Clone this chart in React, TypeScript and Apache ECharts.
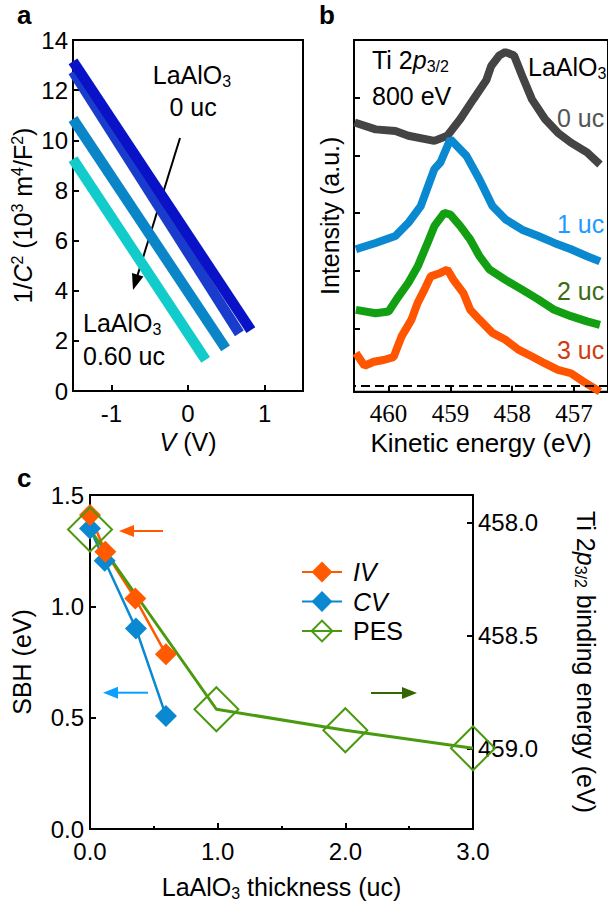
import React, { useEffect, useRef } from 'react';
import * as echarts from 'echarts';

const FONT = "'Liberation Sans', Arial, Helvetica, sans-serif";
const SERIF = "'Liberation Serif', 'Times New Roman', Times, serif";

// ---------- Panel a: 1/C^2 vs V ----------
const bandLabels = ['0 uc', '0.11 uc', '0.35 uc', '0.60 uc'];
const bandColors = ['#0a12c8', '#1a3ccc', '#0a86c8', '#12cccc'];
const band0uc = [[-1.5, 13.15], [0.82, 2.43]];
const band011uc = [[-1.5, 12.75], [0.67, 2.3]];
const band035uc = [[-1.5, 10.85], [0.49, 1.7]];
const band060uc = [[-1.5, 9.25], [0.23, 1.24]];
const aXTicks = [-1, 0, 1];

// ---------- Panel b: Ti 2p3/2 spectra ----------
const specLabels = ['0 uc', '1 uc', '2 uc', '3 uc'];
const specColors = ['#444444', '#0a88d0', '#12a012', '#ff5500'];
const specLabelColors = ['#555555', '#1e9bff', '#3d6b12', '#d03c10'];
const spec0uc = [[460.55, 4.57], [460.21, 4.45], [459.89, 4.42], [459.68, 4.34], [459.26, 4.25], [459.05, 4.34], [458.84, 4.63], [458.63, 4.97], [458.42, 5.3], [458.34, 5.55], [458.21, 5.73], [458.11, 5.79], [457.97, 5.73], [457.84, 5.38], [457.68, 4.97], [457.47, 4.63], [457.26, 4.39], [457.05, 4.22], [456.79, 4.05], [456.58, 3.84]];
const spec1uc = [[460.53, 2.37], [460.21, 2.48], [459.89, 2.6], [459.68, 2.83], [459.48, 3.12], [459.26, 3.76], [459.16, 3.88], [459.0, 4.28], [458.74, 3.99], [458.53, 3.58], [458.32, 3.12], [458.11, 2.89], [457.84, 2.71], [457.58, 2.6], [457.32, 2.48], [457.05, 2.37], [456.79, 2.25], [456.58, 2.16]];
const spec2uc = [[460.53, 1.32], [460.21, 1.26], [460.0, 1.29], [459.84, 1.55], [459.68, 1.79], [459.53, 2.07], [459.37, 2.48], [459.26, 2.77], [459.1, 3.0], [459.0, 2.97], [458.84, 2.77], [458.68, 2.54], [458.53, 2.25], [458.37, 2.02], [458.11, 1.84], [457.84, 1.67], [457.58, 1.5], [457.32, 1.32], [457.05, 1.21], [456.79, 1.12], [456.58, 1.06]];
const spec3uc = [[460.53, 0.57], [460.39, 0.35], [460.24, 0.42], [460.08, 0.45], [459.92, 0.5], [459.79, 0.86], [459.63, 1.15], [459.53, 1.44], [459.42, 1.67], [459.32, 1.9], [459.16, 1.96], [459.05, 2.02], [458.95, 1.84], [458.79, 1.61], [458.68, 1.32], [458.53, 1.15], [458.32, 0.92], [458.11, 0.8], [457.9, 0.63], [457.68, 0.51], [457.47, 0.39], [457.26, 0.28], [457.05, 0.22], [456.84, 0.07], [456.58, -0.1]];
const bXTicks = [457, 458, 459, 460];
const bYTicks = [1, 2, 3, 4, 5];

// ---------- Panel c: SBH and binding energy ----------
const thicknessIV = [0, 0.12, 0.355, 0.595];
const sbhIV = [1.41, 1.245, 1.035, 0.785];
const thicknessCV = [0, 0.115, 0.36, 0.595];
const sbhCV = [1.35, 1.205, 0.9, 0.508];
const thicknessPES = [0, 0.99, 2, 3];
const bindingPES = [458.03, 458.827, 458.92, 459.0];
const cRightTicks = [458.0, 458.5, 459.0];

const rich = {
  i: { fontFamily: FONT, fontSize: 25, fontStyle: 'italic', lineHeight: 28 },
  sup: { fontFamily: FONT, fontSize: 16, lineHeight: 16, verticalAlign: 'top' },
  sub: { fontFamily: FONT, fontSize: 16, lineHeight: 14, verticalAlign: 'bottom' },
};
const nameStyle = { fontFamily: FONT, fontSize: 25, color: '#000', lineHeight: 28, rich };
const axisLine = { onZero: false, lineStyle: { color: '#000', width: 2 } };
const axisTick = { inside: true, length: 6, lineStyle: { color: '#000', width: 2 } };
const labelStyle = { fontFamily: FONT, fontSize: 24, color: '#000' };

const zip = (xs: number[], ys: number[]) => xs.map((x, i) => [x, ys[i]]);

function txt(x: number, y: number, text: string, color = '#000', align = 'left', extra: any = {}) {
  return {
    type: 'text',
    x,
    y,
    silent: true,
    style: {
      text,
      rich: {
        sub: { fontFamily: FONT, fontSize: 16, lineHeight: 14, verticalAlign: 'bottom', fill: color },
        i: { fontFamily: FONT, fontSize: 25, fontStyle: 'italic', lineHeight: 28, fill: color },
      },
      fontFamily: FONT,
      fontSize: 25,
      lineHeight: 28,
      fill: color,
      align,
      verticalAlign: 'middle',
      ...extra,
    },
  };
}

function arrow(x1: number, y1: number, x2: number, y2: number, color: string, headLen = 15, headHalf = 6, width = 2) {
  const dx = x2 - x1;
  const dy = y2 - y1;
  const len = Math.sqrt(dx * dx + dy * dy);
  const ux = dx / len;
  const uy = dy / len;
  const bx = x2 - ux * headLen;
  const by = y2 - uy * headLen;
  const px = -uy;
  const py = ux;
  return [
    { type: 'line', silent: true, shape: { x1, y1, x2: bx + ux, y2: by + uy }, style: { stroke: color, lineWidth: width } },
    {
      type: 'polygon',
      silent: true,
      shape: { points: [[x2, y2], [bx + px * headHalf, by + py * headHalf], [bx - px * headHalf, by - py * headHalf]] },
      style: { fill: color },
    },
  ];
}

function buildOption() {
  const bands = [band0uc, band011uc, band035uc, band060uc];
  const specs = [spec0uc, spec1uc, spec2uc, spec3uc];
  const series: any[] = [];
  [1, 0, 2, 3].forEach((k) => {
    series.push({
      name: 'a ' + bandLabels[k],
      type: 'line',
      xAxisIndex: 0,
      yAxisIndex: 0,
      data: bands[k],
      symbol: 'none',
      clip: false,
      lineStyle: { color: bandColors[k], width: 10.5 },
      silent: true,
    });
  });
  specs.forEach((d, k) => {
    series.push({
      name: 'b ' + specLabels[k],
      type: 'line',
      xAxisIndex: 1,
      yAxisIndex: 1,
      data: d,
      symbol: 'none',
      lineStyle: { color: specColors[k], width: 8 },
      silent: true,
      markLine: k === 3 ? {
        silent: true,
        symbol: 'none',
        label: { show: false },
        lineStyle: { color: '#000', type: [9, 5], width: 2 },
        data: [{ yAxis: 0 }],
      } : undefined,
    });
  });
  series.push({
    name: 'CV',
    type: 'line',
    xAxisIndex: 2,
    yAxisIndex: 2,
    data: zip(thicknessCV, sbhCV),
    symbol: 'diamond',
    symbolSize: 22,
    clip: false,
    itemStyle: { color: '#0a88d0' },
    lineStyle: { color: '#0a88d0', width: 2.5 },
  });
  series.push({
    name: 'IV',
    type: 'line',
    xAxisIndex: 2,
    yAxisIndex: 2,
    data: zip(thicknessIV, sbhIV),
    symbol: 'diamond',
    symbolSize: 22,
    clip: false,
    itemStyle: { color: '#ff5a00' },
    lineStyle: { color: '#ff5a00', width: 2.5 },
  });
  series.push({
    name: 'PES',
    type: 'line',
    xAxisIndex: 2,
    yAxisIndex: 3,
    data: zip(thicknessPES, bindingPES),
    symbol: 'diamond',
    symbolSize: 44,
    clip: false,
    itemStyle: { color: 'rgba(0,0,0,0)', borderColor: '#4a9a10', borderWidth: 2 },
    lineStyle: { color: '#4a9a10', width: 3 },
  });

  const graphics: any[] = [
    txt(17, 15, 'a', '#000', 'left', { fontWeight: 'bold', fontSize: 26, lineHeight: 26 }),
    txt(319, 15, 'b', '#000', 'left', { fontWeight: 'bold', fontSize: 26, lineHeight: 26 }),
    txt(17, 478, 'c', '#000', 'left', { fontWeight: 'bold', fontSize: 26, lineHeight: 26 }),
    txt(192, 75, 'LaAlO{sub|3}', '#000', 'center'),
    txt(193, 107, '0 uc', '#000', 'center'),
    txt(83, 323, 'LaAlO{sub|3}'),
    txt(83, 356, '0.60 uc'),
    ...arrow(180, 138, 133, 290, '#000', 16, 6, 2),
    txt(372, 60, 'Ti 2{i|p}{sub|3/2}'),
    txt(372, 96, '800 eV'),
    txt(528, 67, 'LaAlO{sub|3}'),
    ...specLabels.map((l, k) => txt(557, [118, 224, 291, 350][k], l, specLabelColors[k])),
    ...arrow(163, 531, 119, 531, '#ff5a00', 15, 6, 2),
    ...arrow(148, 692.7, 103, 692.7, '#0aa0ff', 15, 6, 2),
    ...arrow(371, 693, 417, 693, '#336600', 15, 6, 2),
  ];

  return {
    animation: false,
    backgroundColor: '#fff',
    grid: [
      { left: 73, top: 40, width: 230, height: 351, show: true, borderColor: '#000', borderWidth: 2 },
      { left: 354, top: 40, width: 262, height: 351.7, show: true, borderColor: '#000', borderWidth: 2 },
      { left: 89, top: 495, width: 387, height: 334, show: true, borderColor: '#000', borderWidth: 2 },
    ],
    xAxis: [
      {
        gridIndex: 0, type: 'value', min: -1.5, max: 1.5,
        axisLine, axisTick: { ...axisTick, customValues: aXTicks },
        axisLabel: { ...labelStyle, margin: 10, customValues: aXTicks },
        splitLine: { show: false },
        name: '{i|V} (V)', nameLocation: 'middle', nameGap: 37, nameTextStyle: nameStyle,
      },
      {
        gridIndex: 1, type: 'value', min: 456.45, max: 460.56, inverse: true,
        axisLine, axisTick: { ...axisTick, customValues: bXTicks },
        axisLabel: {
          fontFamily: SERIF, fontSize: 25, color: '#000', margin: 9, customValues: bXTicks,
          formatter: (v: number) => `{s|${v}}`,
          rich: { s: { fontFamily: 'Liberation Serif', fontSize: 25, color: '#000' } },
        },
        splitLine: { show: false },
        name: 'Kinetic energy (eV)', nameLocation: 'middle', nameGap: 37,
        nameTextStyle: { ...nameStyle, fontSize: 26 },
      },
      {
        gridIndex: 2, type: 'value', min: 0, max: 3, interval: 1,
        axisLine, axisTick,
        minorTick: { show: true, splitNumber: 2, length: 3, lineStyle: { color: '#000', width: 2 } },
        axisLabel: { ...labelStyle, margin: 10, formatter: (v: number) => v.toFixed(1) },
        splitLine: { show: false },
        name: 'LaAlO{sub|3} thickness (uc)', nameLocation: 'middle', nameGap: 44, nameTextStyle: nameStyle,
      },
    ],
    yAxis: [
      {
        gridIndex: 0, type: 'value', min: 0, max: 14, interval: 2,
        axisLine, axisTick, axisLabel: { ...labelStyle, margin: 5 },
        splitLine: { show: false },
        name: '1/{i|C}{sup|2} (10{sup|3} m{sup|4}/F{sup|2})', nameLocation: 'middle', nameGap: 35, nameTextStyle: nameStyle,
      },
      {
        gridIndex: 1, type: 'value', min: -0.1, max: 6,
        axisLine, axisTick: { ...axisTick, customValues: bYTicks },
        axisLabel: { show: false },
        splitLine: { show: false },
        name: 'Intensity (a.u.)', nameLocation: 'middle', nameGap: 10, nameTextStyle: nameStyle,
      },
      {
        gridIndex: 2, type: 'value', min: 0, max: 1.5, interval: 0.5,
        axisLine, axisTick,
        axisLabel: { ...labelStyle, margin: 6, formatter: (v: number) => v.toFixed(1) },
        splitLine: { show: false },
        name: 'SBH (eV)', nameLocation: 'middle', nameGap: 54, nameTextStyle: nameStyle,
      },
      {
        gridIndex: 2, type: 'value', position: 'right', min: 457.877, max: 459.358, inverse: true,
        axisLine, axisTick: { ...axisTick, customValues: cRightTicks },
        axisLabel: { ...labelStyle, margin: 5, customValues: cRightTicks, formatter: (v: number) => v.toFixed(1) },
        splitLine: { show: false },
        name: 'Ti 2{i|p}{sub|3/2} binding energy (eV)', nameLocation: 'middle', nameRotate: -90, nameGap: 99, nameTextStyle: nameStyle,
      },
    ],
    legend: {
      data: ['IV', 'CV', 'PES'],
      orient: 'vertical',
      left: 296,
      top: 554,
      itemWidth: 40,
      itemHeight: 26,
      itemGap: 3.5,
      selectedMode: false,
      formatter: (n: string) => (n === 'PES' ? 'PES' : `{i|${n}}`),
      textStyle: {
        fontFamily: FONT, fontSize: 25, color: '#000', lineHeight: 26, padding: [0, 0, 0, 6],
        rich: { i: { fontFamily: FONT, fontSize: 25, fontStyle: 'italic', lineHeight: 26 } },
      },
    },
    series,
    graphic: { elements: graphics },
  };
}

export default function App() {
  const ref = useRef<HTMLDivElement>(null);
  useEffect(() => {
    document.body.style.margin = '0';
    const chart = echarts.init(ref.current as HTMLDivElement, null, { renderer: 'svg' });
    chart.setOption(buildOption() as any);
    return () => chart.dispose();
  }, []);
  return <div ref={ref} style={{ width: 608, height: 907, overflow: 'hidden' }} />;
}
